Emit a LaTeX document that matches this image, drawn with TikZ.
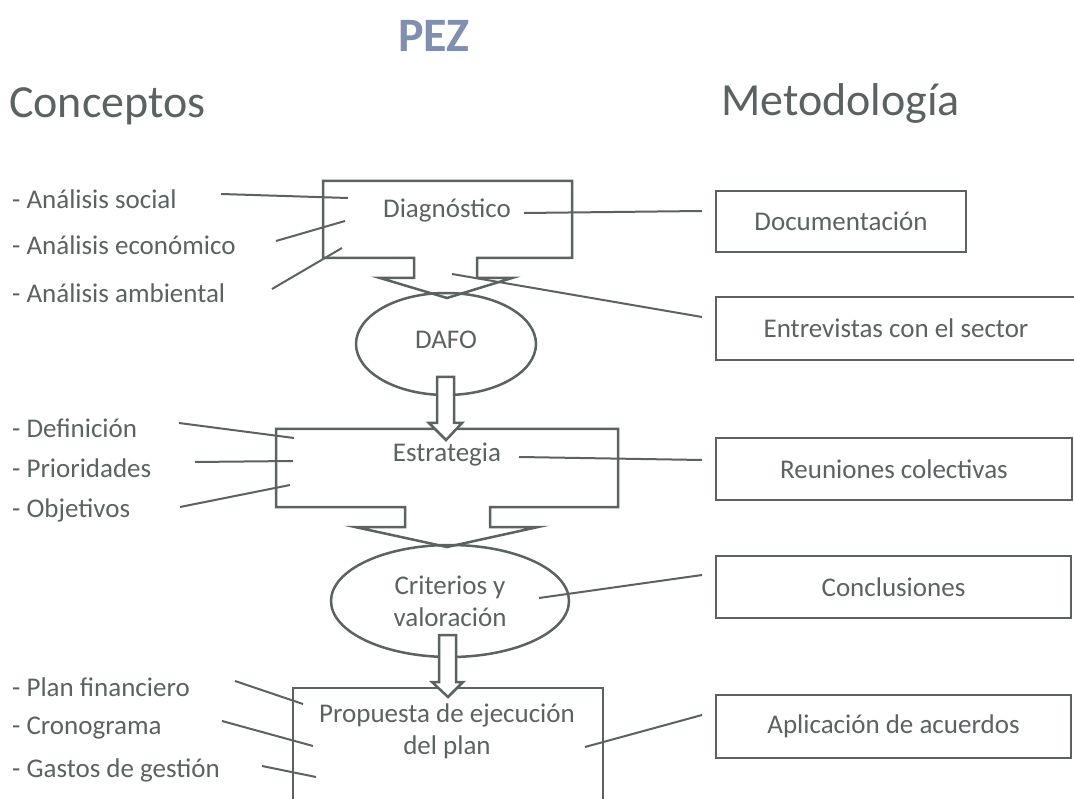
\documentclass[tikz,border=0pt]{standalone}
\usepackage{fontspec}
\setmainfont{Carlito}
\usetikzlibrary{shapes.geometric}
\definecolor{ink}{RGB}{92,98,98}
\definecolor{titleblue}{RGB}{128,143,176}
\begin{document}
\begin{tikzpicture}[x=1pt,y=-1pt,
  txt/.style={font=\fontsize{27}{32}\selectfont, text=ink, inner sep=0pt},
  item/.style={txt, anchor=west},
  head/.style={font=\fontsize{46}{52}\selectfont, text=ink, inner sep=0pt, anchor=west},
  rbox/.style={txt, draw=ink, line width=2.5pt},
  oval/.style={txt, draw=ink, line width=2.5pt, ellipse, align=center},
  shapeline/.style={draw=ink, line width=2.5pt, line join=miter},
  blockarrow/.style={draw=ink, fill=white, line width=2.5pt, line join=miter},
  conn/.style={draw=ink, line width=2pt}]
\useasboundingbox (0,0) rectangle (1074,799);
\clip (0,0) rectangle (1074,799);
\fill[white] (0,0) rectangle (1074,799);

% titles
\node[font=\bfseries\fontsize{48}{54}\selectfont, text=titleblue, inner sep=0pt] (pez) at (434,36) {PEZ};
\node[head] (conceptos) at (9,106) {Conceptos};
\node[head] (metodologia) at (721,103) {Metodología};

% central shapes
\draw[shapeline] (323,181) -- (572,181) -- (572,258) -- (477,258) -- (477,278) -- (512,278) -- (447,298) -- (380,278) -- (414,278) -- (414,258) -- (323,258) -- cycle;
\node[txt] (diag) at (447,210) {Diagnóstico};

\node[oval, minimum width=180, minimum height=102] (dafo) at (446,344) {};
\node[txt] (dafot) at (446,340) {DAFO};

\draw[shapeline] (276,429) -- (618,429) -- (618,507) -- (490,507) -- (490,527) -- (538,527) -- (447,547) -- (355,527) -- (405,527) -- (405,507) -- (276,507) -- cycle;
\node[txt] (estr) at (447,455) {Estrategia};

\draw[blockarrow] (437,377) -- (454,377) -- (454,423) -- (462,423) -- (446,440) -- (429,423) -- (437,423) -- cycle;

\node[oval, minimum width=238, minimum height=112, inner sep=0pt] (crit) at (450,601) {Criterios y\\valoración};

\draw[shapeline] (293,810) -- (293,688) -- (603,688) -- (603,810);
\node[txt, align=center] (prop) at (447,731) {Propuesta de ejecución\\del plan};

\draw[blockarrow] (439,635) -- (456,635) -- (456,682) -- (463,682) -- (448,697) -- (432,682) -- (439,682) -- cycle;

% right boxes
\node[rbox, minimum width=250, minimum height=61] (doc) at (841,221.5) {Documentación};
\node[rbox, minimum width=360, minimum height=63] (entr) at (896,328.5) {Entrevistas con el sector};
\node[rbox, minimum width=356, minimum height=62] (reun) at (894,469) {Reuniones colectivas};
\node[rbox, minimum width=355, minimum height=62] (concl) at (893.5,587) {Conclusiones};
\node[rbox, minimum width=355, minimum height=63] (aplic) at (893.5,726.5) {Aplicación de acuerdos};

% left items
\node[item] (i1) at (12,199) {- Análisis social};
\node[item] (i2) at (12,245) {- Análisis económico};
\node[item] (i3) at (12,293) {- Análisis ambiental};
\node[item] (i4) at (12,428) {- Definición};
\node[item] (i5) at (12,468) {- Prioridades};
\node[item] (i6) at (12,510) {- Objetivos};
\node[item] (i7) at (12,687) {- Plan financiero};
\node[item] (i8) at (12,728) {- Cronograma};
\node[item] (i9) at (12,770) {- Gastos de gestión};

% connector end points
\coordinate (a1) at (221,194); \coordinate (b1) at (348,198);
\coordinate (a2) at (276,241); \coordinate (b2) at (345,221);
\coordinate (a3) at (272,289); \coordinate (b3) at (342,248);
\coordinate (a4) at (179,423); \coordinate (b4) at (294,438);
\coordinate (a5) at (195,462); \coordinate (b5) at (293,461);
\coordinate (a6) at (180,507); \coordinate (b6) at (290,485);
\coordinate (a7) at (235,681); \coordinate (b7) at (303,704);
\coordinate (a8) at (222,721); \coordinate (b8) at (313,746);
\coordinate (a9) at (262,766); \coordinate (b9) at (316,777);

\coordinate (r1) at (524,213); \coordinate (s1) at (702,211);
\coordinate (r2) at (452,274); \coordinate (s2) at (702,317);
\coordinate (r3) at (519,457); \coordinate (s3) at (702,460);
\coordinate (r4) at (539,598); \coordinate (s4) at (702,575);
\coordinate (r5) at (585,747); \coordinate (s5) at (702,715);

\foreach \p in {1,...,9} {\draw[conn] (a\p) -- (b\p);}
\foreach \p in {1,...,5} {\draw[conn] (r\p) -- (s\p);}
\end{tikzpicture}
\end{document}
